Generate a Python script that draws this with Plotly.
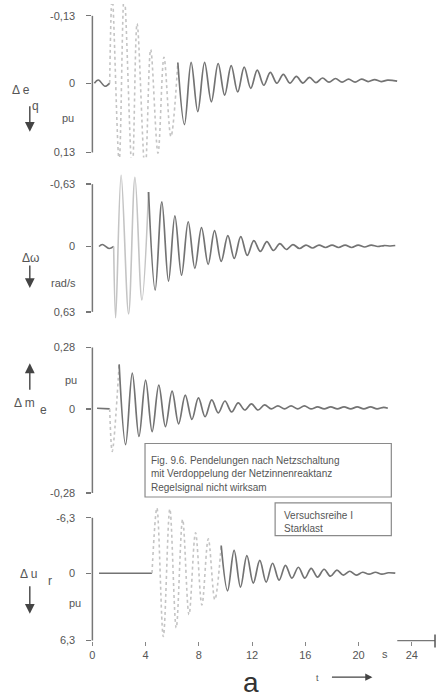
import plotly.graph_objects as go

# ---------------- data ----------------
# Panel 1: delta e_q  [pu]  (axis downwards positive)
t_eq_pre = [0.15, 0.45, 0.95, 1.3]
v_eq_pre = [0.0, -0.006, 0.006, 0.0]
t_eq_fast = [1.3, 1.49, 2.01, 2.39, 2.99, 3.36, 3.96, 4.38, 4.93, 5.38, 5.9, 6.42]
v_eq_fast = [0.0, -0.17, 0.15, -0.17, 0.17, -0.115, 0.17, -0.065, 0.135, -0.05, 0.103, -0.04]
t_eq_slow = [6.42, 6.92, 7.42, 7.92, 8.43, 8.94, 9.45, 9.94, 10.43, 10.92,
             11.41, 11.9, 12.39, 12.88, 13.37, 13.86, 14.35, 14.84, 15.33, 15.82,
             16.31, 16.8, 17.29, 17.78, 18.27, 18.76, 19.25, 19.74, 20.23, 20.72,
             21.21, 21.7, 22.19, 22.9]
v_eq_slow = [-0.04, 0.08, -0.04, 0.055, -0.04, 0.036, -0.038, 0.023, -0.034, 0.017,
             -0.031, 0.01, -0.025, 0.004, -0.021, 0.0, -0.017, 0.0, -0.013, 0.0,
             -0.011, -0.001, -0.01, -0.002, -0.009, -0.002, -0.008, -0.002, -0.008, -0.003,
             -0.007, -0.003, -0.006, -0.004]

# Panel 2: delta omega [rad/s] (axis downwards positive)
t_w_pre = [0.5, 0.75, 1.25, 1.6]
v_w_pre = [0.0, -0.02, 0.02, 0.0]
t_w_fast = [1.6, 1.75, 2.16, 2.72, 3.2, 3.72, 4.22]
v_w_fast = [0.0, 0.72, -0.72, 0.68, -0.70, 0.54, -0.55]
t_w_slow = [4.22, 4.72, 5.22, 5.72, 6.2, 6.7, 7.2, 7.7, 8.2, 8.7,
            9.18, 9.68, 10.18, 10.66, 11.15, 11.64, 12.13, 12.62, 13.11, 13.6,
            14.09, 14.58, 15.07, 15.56, 16.05, 16.54, 17.03, 17.52, 18.01, 18.5,
            18.99, 19.48, 19.97, 20.46, 20.95, 21.44, 21.93, 22.4, 22.76]
v_w_slow = [-0.55, 0.44, -0.45, 0.35, -0.31, 0.29, -0.25, 0.22, -0.19, 0.18,
            -0.16, 0.15, -0.11, 0.12, -0.10, 0.09, -0.06, 0.05, -0.05, 0.04,
            -0.03, 0.03, -0.02, 0.02, -0.015, 0.015, -0.015, 0.01, -0.015, 0.01,
            -0.015, 0.01, -0.015, 0.005, -0.015, 0.0, -0.01, -0.005, -0.01]

# Panel 3: delta m_e [pu] (axis upwards positive)
t_m_pre = [0.35, 1.3]
v_m_pre = [0.003, 0.0]
t_m_fast = [1.3, 1.49, 2.01]
v_m_fast = [0.0, -0.194, 0.203]
t_m_slow = [2.01, 2.5, 3.0, 3.5, 4.0, 4.49, 4.99, 5.49, 5.99, 6.48,
            6.98, 7.48, 7.97, 8.47, 8.97, 9.46, 9.96, 10.46, 10.96, 11.45,
            11.95, 12.45, 12.94, 13.44, 13.94, 14.44, 14.93, 15.43, 15.93, 16.42,
            16.92, 17.42, 17.91, 18.41, 18.91, 19.41, 19.9, 20.4, 20.9, 21.39,
            21.89, 22.2]
v_m_slow = [0.203, -0.163, 0.163, -0.126, 0.131, -0.104, 0.108, -0.081, 0.081, -0.068,
            0.063, -0.048, 0.05, -0.036, 0.041, -0.018, 0.036, -0.014, 0.027, -0.005,
            0.023, -0.005, 0.018, 0.0, 0.014, 0.0, 0.014, 0.0, 0.014, 0.0,
            0.009, 0.0, 0.009, 0.0, 0.009, 0.0, 0.009, 0.0, 0.009, 0.0,
            0.007, 0.003]

# Panel 4: delta u_r [pu] (axis downwards positive)
t_u_pre = [0.5, 4.48]
v_u_pre = [0.0, 0.0]
t_u_fast = [4.48, 4.85, 5.33, 5.82, 6.30, 6.78, 7.26, 7.75, 8.23, 8.71, 9.20, 9.68]
v_u_fast = [0.0, -7.4, 7.2, -7.3, 6.2, -6.1, 4.7, -4.6, 3.6, -3.9, 3.0, -3.15]
t_u_slow = [9.68, 10.16, 10.65, 11.13, 11.61, 12.09, 12.58, 13.06, 13.54, 14.03,
            14.51, 14.99, 15.48, 15.96, 16.44, 16.92, 17.41, 17.89, 18.37, 18.86,
            19.34, 19.82, 20.31, 20.79, 21.27, 21.75, 22.24, 22.76]
v_u_slow = [-3.15, 2.0, -2.6, 1.58, -2.0, 1.13, -1.46, 1.01, -1.13, 0.79,
            -0.9, 0.56, -0.68, 0.56, -0.56, 0.45, -0.45, 0.34, -0.34, 0.22,
            -0.22, 0.22, -0.11, 0.11, -0.11, 0.11, -0.05, 0.0]

x_tickvals = [0, 4, 8, 12, 16, 20, 24]
x_ticktext = ["0", "4", "8", "12", "16", "20", "24"]

# ---------------- layout geometry ----------------
W, H = 437, 699
FONT = "Liberation Sans"
TXT = "#555555"
LINE = "#737373"
LIGHT = "#c4c4c4"


def px(x):
    return x / W


def py(y):
    return 1 - y / H


X0, X1 = 90, 431
PX_PER_S = 13.4
T_MAX = (X1 - X0) / PX_PER_S

panels = [
    dict(dom=(3, 158), zero=83, ppu=68 / 0.13, inv=True, ticks=(15, 83, 153),
         text=["-0,13", "0", "0,13"]),
    dict(dom=(172, 324), zero=248, ppu=63 / 0.63, inv=True, ticks=(185, 248, 314),
         text=["-0,63", "0", "0,63"]),
    dict(dom=(345, 500), zero=412, ppu=62 / 0.28, inv=False, ticks=(350, 412, 497),
         text=["0,28", "0", "-0,28"]),
    dict(dom=(505, 646), zero=578, ppu=56 / 6.3, inv=True, ticks=(522, 578, 646),
         text=["-6,3", "0", "6,3"]),
]


def val(p, ypx):
    d = (ypx - p["zero"]) / p["ppu"]
    return d if p["inv"] else -d


fig = go.Figure()

series = [
    (t_eq_pre, v_eq_pre, t_eq_fast, v_eq_fast, t_eq_slow, v_eq_slow, "dot"),
    (t_w_pre, v_w_pre, t_w_fast, v_w_fast, t_w_slow, v_w_slow, "solid"),
    (t_m_pre, v_m_pre, t_m_fast, v_m_fast, t_m_slow, v_m_slow, "dot"),
    (t_u_pre, v_u_pre, t_u_fast, v_u_fast, t_u_slow, v_u_slow, "dot"),
]

for i, (tp, vp, tf, vf, ts, vs, fdash) in enumerate(series, start=1):
    xa = "x" if i == 1 else f"x{i}"
    ya = "y" if i == 1 else f"y{i}"
    fig.add_trace(go.Scatter(x=tp, y=vp, mode="lines", xaxis=xa, yaxis=ya,
                             line=dict(color=LINE, width=1.6, shape="spline"),
                             showlegend=False, hoverinfo="skip"))
    fig.add_trace(go.Scatter(x=tf, y=vf, mode="lines", xaxis=xa, yaxis=ya,
                             line=dict(color=LIGHT, width=1.6, shape="spline", dash=fdash),
                             showlegend=False, hoverinfo="skip"))
    fig.add_trace(go.Scatter(x=ts, y=vs, mode="lines", xaxis=xa, yaxis=ya,
                             line=dict(color=LINE, width=1.7, shape="spline", smoothing=1.0),
                             showlegend=False, hoverinfo="skip"))

layout = dict(
    width=W, height=H, margin=dict(l=0, r=0, t=0, b=0),
    paper_bgcolor="white", plot_bgcolor="white",
    font=dict(family=FONT, color=TXT, size=11),
    showlegend=False,
)

shapes = []
for i, p in enumerate(panels, start=1):
    xk = "xaxis" if i == 1 else f"xaxis{i}"
    yk = "yaxis" if i == 1 else f"yaxis{i}"
    yname = "y" if i == 1 else f"y{i}"
    xname = "x" if i == 1 else f"x{i}"
    last = i == 4
    layout[xk] = dict(domain=[px(X0), px(X1)], range=[0, T_MAX], anchor=yname,
                      showgrid=False, zeroline=False, showline=False,
                      showticklabels=last, ticks="outside" if last else "",
                      tickvals=x_tickvals, ticktext=x_ticktext, ticklen=4,
                      tickcolor="#888888", tickfont=dict(size=11, color=TXT))
    layout[yk] = dict(domain=[py(p["dom"][1]), py(p["dom"][0])],
                      range=[val(p, p["dom"][1]), val(p, p["dom"][0])],
                      anchor=xname, showgrid=False, zeroline=False, showline=False,
                      tickvals=[val(p, t) for t in p["ticks"]], ticktext=p["text"],
                      ticks="outside", ticklen=5, tickwidth=1.3, tickcolor="#777777",
                      ticklabelstandoff=9, tickfont=dict(size=11, color=TXT))
    shapes.append(dict(type="line", xref="paper", yref="paper",
                       x0=px(X0), x1=px(X0), y0=py(p["ticks"][0]), y1=py(p["ticks"][2]),
                       line=dict(color="#777777", width=1.5)))

# partial time axis segment at bottom right
shapes.append(dict(type="line", xref="paper", yref="paper", x0=px(397), x1=px(435),
                   y0=py(646), y1=py(646), line=dict(color="#777777", width=1.3)))
shapes.append(dict(type="line", xref="paper", yref="paper", x0=px(435), x1=px(435),
                   y0=py(640), y1=py(653), line=dict(color="#555555", width=1.5)))
# text boxes
shapes.append(dict(type="rect", xref="paper", yref="paper", x0=px(143), x1=px(391),
                   y0=py(501), y1=py(447), line=dict(color="#8a8a8a", width=1.2),
                   fillcolor="white", layer="above"))
shapes.append(dict(type="rect", xref="paper", yref="paper", x0=px(274), x1=px(391),
                   y0=py(540), y1=py(507), line=dict(color="#8a8a8a", width=1.2),
                   fillcolor="white", layer="above"))
layout["shapes"] = shapes

anns = []


def label(text, x, y, size=11, xanchor="center", color=TXT):
    anns.append(dict(text=text, x=px(x), y=py(y), xref="paper", yref="paper",
                     showarrow=False, xanchor=xanchor, yanchor="middle",
                     font=dict(size=size, color=color, family=FONT)))


def arrow(x, y_head, y_tail):
    anns.append(dict(text="", x=px(x), y=py(y_head), xref="paper", yref="paper",
                     showarrow=True, ax=0, ay=y_tail - y_head, arrowhead=2,
                     arrowsize=1.4, arrowwidth=1.4, arrowcolor="#444444"))


# panel 1 labels
label("Δ e", 18, 90, 12)
label("q", 33, 106, 12)
arrow(27, 132, 105)
label("pu", 65, 118, 11)
# panel 2
label("Δω", 28, 260, 12)
arrow(27, 290, 266)
label("rad/s", 61, 285, 11)
# panel 3
arrow(27, 366, 394)
label("pu", 68, 383, 11)
label("Δ m", 22, 406, 12)
label("e", 41, 413, 12)
# panel 4
label("Δ u", 26, 579, 12)
label("r", 47, 586, 12)
arrow(27, 619, 590)
label("pu", 72, 608, 11)

# time axis extras
label("s", 385, 660, 11)
label("t", 317, 684, 9)
anns.append(dict(text="", x=px(372), y=py(683), xref="paper", yref="paper",
                 showarrow=True, ax=-42, ay=0, arrowhead=2, arrowsize=1.2,
                 arrowwidth=1.2, arrowcolor="#444444"))
label("a", 250, 688, 28, color="#333333")

# box texts
box_lines = ["Fig. 9.6. Pendelungen nach Netzschaltung",
             "mit Verdoppelung der Netzinnenreaktanz",
             "Regelsignal nicht wirksam"]
for k, line in enumerate(box_lines):
    label(line, 147, 464 + 13.5 * k, 10, xanchor="left")
label("Versuchsreihe I", 281, 520, 10, xanchor="left")
label("Starklast", 281, 533, 10, xanchor="left")

layout["annotations"] = anns
fig.update_layout(**layout)

fig.write_html("out.html", config={"displayModeBar": False, "staticPlot": True},
               post_script="document.body.style.margin='0';")
